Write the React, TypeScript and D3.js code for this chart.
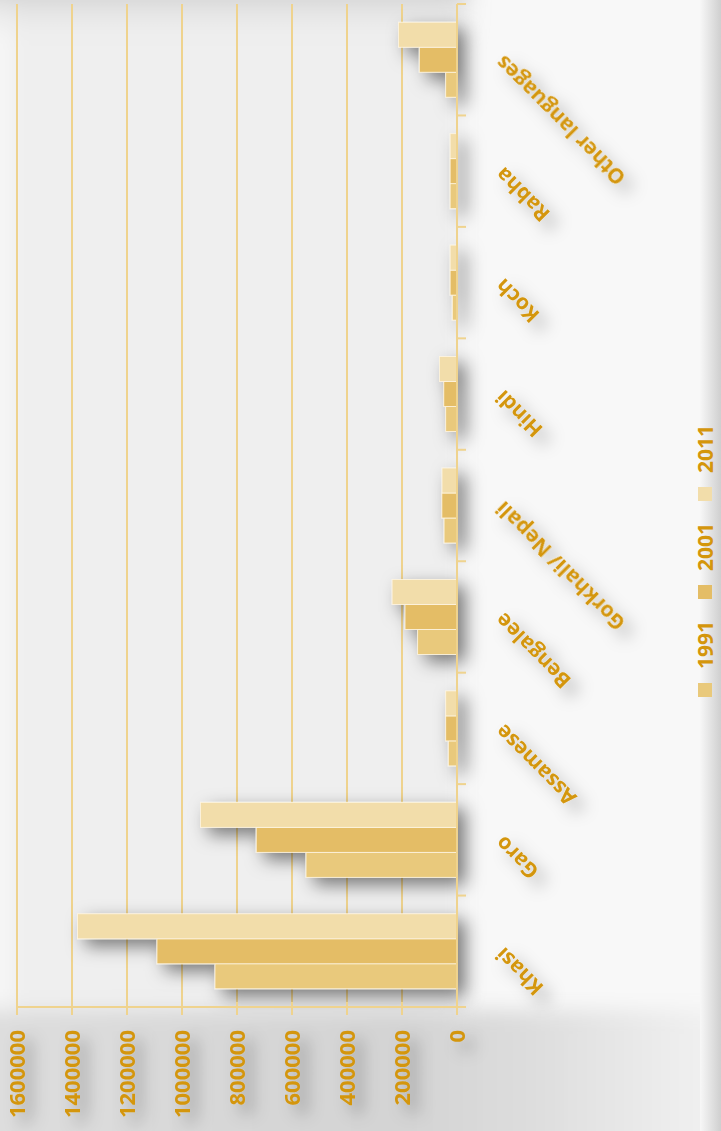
import React from 'react';
import * as d3 from 'd3';

const categories = ['Khasi', 'Garo', 'Assamese', 'Bengalee', 'Gorkhali/ Nepali', 'Hindi', 'Koch', 'Rabha', 'Other languages'];
const years = ['1991', '2001', '2011'];
const values1991 = [880000, 549000, 31500, 143000, 47000, 41000, 17000, 25000, 41000];
const values2001 = [1091000, 730000, 41000, 189000, 55000, 48000, 25000, 25000, 137000];
const values2011 = [1380000, 933000, 41000, 236000, 54500, 64000, 25000, 25000, 213000];
const valueTicks = [0, 200000, 400000, 600000, 800000, 1000000, 1200000, 1400000, 1600000];
const seriesColors = ['#E9C97B', '#E4BD66', '#F2DDAA'];

const W = 721;
const H = 1131;
const LABEL = '#D4960C';
const AXIS = '#EFD38E';
const FONT = '"Open Sans", "DejaVu Sans", sans-serif';

export default function App() {
  const series = [values1991, values2001, values2011];
  const x = d3.scaleLinear().domain([0, 1600000]).range([457, 17]);
  const y = d3.scaleBand<string>().domain(categories).range([1007, 4]).padding(0);
  const sub = d3.scaleBand<string>().domain(['2011', '2001', '1991']).range([0, y.bandwidth()]).paddingInner(0).paddingOuter(0.73);
  const edges = [4, ...categories.map((c) => y(c)! + y.bandwidth())];

  return (
    <svg width={W} height={H} style={{ position: 'absolute', left: 0, top: 0 }} xmlns="http://www.w3.org/2000/svg">
      <defs>
        <filter id="sh" x="-50%" y="-50%" width="200%" height="200%">
          <feDropShadow dx="8" dy="7" stdDeviation="9" floodColor="#000" floodOpacity="0.5" />
        </filter>
        <filter id="tsh" x="-50%" y="-50%" width="200%" height="200%">
          <feDropShadow dx="9" dy="9" stdDeviation="8" floodColor="#000" floodOpacity="0.3" />
        </filter>
        <filter id="bgblur" filterUnits="userSpaceOnUse" x="-100" y="-100" width="921" height="1331">
          <feGaussianBlur stdDeviation="10" />
        </filter>
        <linearGradient id="topg" x1="0" y1="0" x2="0" y2="1">
          <stop offset="0" stopColor="#9a9a9a" stopOpacity="0.75" />
          <stop offset="0.5" stopColor="#bbbbbb" stopOpacity="0.3" />
          <stop offset="1" stopColor="#ffffff" stopOpacity="0" />
        </linearGradient>
        <linearGradient id="botg" x1="0" y1="0" x2="1" y2="0">
          <stop offset="0" stopColor="#dedede" />
          <stop offset="0.55" stopColor="#d3d3d3" />
          <stop offset="0.7" stopColor="#dcdcdc" />
          <stop offset="1" stopColor="#f6f6f6" />
        </linearGradient>
        <linearGradient id="edgeg" x1="0" y1="0" x2="1" y2="0">
          <stop offset="0" stopColor="#f7f7f7" />
          <stop offset="1" stopColor="#cfcfcf" />
        </linearGradient>
      </defs>
      {/* backgrounds */}
      <rect x={0} y={0} width={W} height={H} fill="#f8f8f8" />
      <g filter="url(#bgblur)">
        <rect x={-40} y={-40} width={502} height={1050} fill="#efefef" />
        <rect x={-40} y={-40} width={52} height={1050} fill="#f6f6f6" />
        <rect x={-40} y={1010} width={800} height={160} fill="url(#botg)" />
        <rect x={-40} y={-40} width={510} height={90} fill="url(#topg)" />
      </g>
      <rect x={700} y={0} width={21} height={H} fill="url(#edgeg)" />

      {/* gridlines */}
      {valueTicks.slice(1).map((t) => (
        <line key={t} x1={x(t)} x2={x(t)} y1={4} y2={1007} stroke={AXIS} strokeWidth={2} />
      ))}

      {/* bars */}
      <g filter="url(#sh)">
        {categories.map((c, i) => (
          <g key={c}>
            {years.map((yr, k) => (
              <rect
                key={yr}
                x={x(series[k][i])}
                y={y(c)! + sub(yr)!}
                width={x(0) - x(series[k][i])}
                height={sub.bandwidth()}
                fill={seriesColors[k]}
                stroke="#fff6e2"
                strokeWidth={0.8}
              />
            ))}
          </g>
        ))}
      </g>

      {/* category axis (vertical at value 0) */}
      <line x1={457} x2={457} y1={4} y2={1009} stroke={AXIS} strokeWidth={2} />
      {edges.map((e, i) => (
        <line key={i} x1={457} x2={466} y1={e} y2={e} stroke={AXIS} strokeWidth={2} />
      ))}
      {/* value axis (horizontal bottom) */}
      <line x1={16} x2={466} y1={1007} y2={1007} stroke={AXIS} strokeWidth={2} />
      {valueTicks.map((t) => (
        <line key={t} x1={x(t)} x2={x(t)} y1={1002} y2={1015} stroke={AXIS} strokeWidth={2} />
      ))}

      {/* value labels */}
      <g filter="url(#tsh)">
        {valueTicks.map((t) => (
          <text
            key={t}
            transform={`translate(${x(t)},1030) rotate(-90)`}
            textAnchor="end"
            dy="0.36em"
            fontFamily={FONT}
            fontWeight="bold"
            fontSize={22}
            fill={LABEL}
          >
            {t}
          </text>
        ))}
      </g>

      {/* category labels */}
      <g filter="url(#tsh)">
        {categories.map((c) => (
          <text
            key={c}
            transform={`translate(499,${y(c)! + y.bandwidth() / 2}) rotate(225)`}
            textAnchor="end"
            dy="0.36em"
            fontFamily={FONT}
            fontWeight="bold"
            fontSize={21}
            fill={LABEL}
          >
            {c}
          </text>
        ))}
      </g>

      {/* legend */}
      {years.map((yr, k) => {
        const top = 683 - k * 98;
        return (
          <g key={yr}>
            <rect x={698} y={top} width={14} height={14} fill={seriesColors[k]} />
            <text
              transform={`translate(705,${top - 14}) rotate(-90)`}
              textAnchor="start"
              dy="0.36em"
              fontFamily={FONT}
              fontWeight="bold"
              fontSize={21}
              fill={LABEL}
            >
              {yr}
            </text>
          </g>
        );
      })}
    </svg>
  );
}
